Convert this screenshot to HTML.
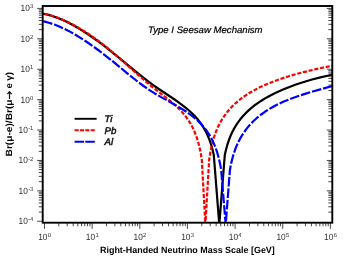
<!DOCTYPE html>
<html><head><meta charset="utf-8"><title>plot</title>
<style>
html,body{margin:0;padding:0;background:#fff;}
body{width:358px;height:262px;overflow:hidden;}
svg{display:block;}
text{font-family:"Liberation Sans",sans-serif;text-rendering:geometricPrecision;}
svg{will-change:transform;}
</style></head><body>
<svg width="358" height="262" viewBox="0 0 358 262">
<rect x="0" y="0" width="358" height="262" fill="#ffffff"/>

<clipPath id="c"><rect x="42.7" y="6.0" width="289.6" height="216.7"/></clipPath>
<g clip-path="url(#c)" fill="none" stroke-linejoin="round">
<path d="M40.00,13.27 L42.70,13.69 L45.40,14.22 L48.30,14.91 L50.60,15.54 L53.60,16.47 L56.80,17.59 L60.20,18.92 L62.80,20.03 L66.10,21.55 L69.00,22.98 L74.70,26.04 L78.10,28.01 L81.50,30.08 L88.00,34.29 L93.40,38.01 L98.90,41.98 L104.50,46.18 L110.10,50.51 L118.50,57.30 L138.90,74.16 L144.30,78.43 L148.90,81.96 L153.20,85.10 L158.40,88.73 L172.00,97.72 L175.00,99.78 L179.60,103.04 L183.60,106.04 L187.60,109.28 L191.20,112.49 L194.10,115.35 L197.20,118.77 L200.10,122.42 L202.60,126.04 L205.00,130.07 L206.20,132.35 L207.20,134.42 L209.10,138.88 L210.20,141.86 L211.00,144.27 L212.50,149.50 L213.70,154.60 L213.80,155.19 L219.30,224.50 L224.80,154.86 L226.00,149.63 L227.40,144.60 L229.00,139.82 L230.60,135.77 L232.30,132.05 L233.40,129.89 L234.60,127.72 L236.20,125.08 L237.30,123.40 L240.10,119.55 L243.00,116.07 L244.50,114.43 L246.50,112.39 L248.60,110.40 L250.60,108.63 L254.50,105.48 L256.70,103.85 L259.20,102.11 L262.10,100.22 L264.70,98.63 L267.60,96.96 L270.40,95.44 L275.80,92.73 L282.50,89.71 L288.80,87.16 L295.20,84.81 L303.00,82.23 L307.90,80.75 L312.10,79.56 L320.30,77.43 L328.80,75.47 L335.90,74.02" stroke="#000000" stroke-width="2.2"/>
<path d="M40.00,12.89 L42.80,13.38 L46.30,14.14 L49.50,14.97 L52.30,15.80 L55.20,16.76 L58.50,17.97 L61.70,19.26 L65.60,20.98 L68.70,22.46 L72.00,24.14 L75.40,25.98 L79.10,28.10 L82.80,30.34 L87.40,33.28 L91.40,35.97 L94.90,38.42 L99.80,41.99 L104.50,45.56 L112.10,51.73 L120.00,58.61 L140.00,76.56 L145.20,81.05 L150.00,85.09 L155.20,89.22 L167.10,98.39 L172.20,102.52 L176.00,105.91 L179.30,109.11 L182.60,112.66 L185.30,115.92 L188.10,119.77 L189.30,121.61 L190.70,123.93 L192.90,128.07 L194.80,132.28 L196.60,137.04 L198.20,142.18 L199.50,147.28 L200.70,153.10 L201.80,159.91 L205.40,224.50 L209.10,160.52 L209.20,159.49 L209.70,156.12 L210.60,150.94 L211.90,144.88 L213.40,139.25 L214.30,136.36 L215.30,133.47 L217.10,128.94 L218.00,126.93 L219.50,123.88 L220.70,121.66 L221.90,119.61 L224.40,115.78 L226.00,113.58 L227.50,111.67 L229.10,109.77 L231.10,107.57 L232.90,105.73 L234.70,104.01 L236.80,102.13 L238.60,100.62 L241.00,98.73 L243.20,97.11 L246.20,95.05 L248.70,93.45 L251.60,91.71 L254.30,90.19 L257.50,88.50 L260.30,87.11 L266.70,84.20 L272.90,81.68 L280.20,79.02 L288.00,76.48 L296.10,74.11 L303.70,72.09 L314.90,69.40 L325.70,67.06 L335.90,65.03" stroke="#ff0000" stroke-width="2.2" stroke-dasharray="4.1,1.75" stroke-dashoffset="1.2"/>
<path d="M40.00,20.66 L43.00,21.23 L44.90,21.66 L49.70,22.97 L54.40,24.55 L59.30,26.49 L64.70,28.95 L70.40,31.88 L75.40,34.71 L82.10,38.84 L86.90,42.01 L92.00,45.55 L97.80,49.76 L103.80,54.29 L112.30,60.95 L127.00,73.04 L134.40,79.01 L140.00,83.36 L143.60,86.00 L149.90,90.37 L154.40,93.19 L161.10,97.11 L172.10,103.17 L176.60,105.76 L181.80,108.88 L185.90,111.51 L190.40,114.66 L194.20,117.62 L196.30,119.41 L198.00,120.96 L200.00,122.91 L201.60,124.59 L204.30,127.71 L205.90,129.76 L207.20,131.56 L209.70,135.43 L211.90,139.40 L213.00,141.64 L214.00,143.86 L215.80,148.40 L217.40,153.21 L218.20,155.99 L219.00,159.09 L220.20,164.54 L221.20,170.25 L225.70,224.50 L229.90,170.27 L230.40,167.31 L231.20,163.35 L232.50,157.98 L233.80,153.52 L235.40,148.90 L236.40,146.37 L237.40,144.06 L238.40,141.93 L239.70,139.39 L241.90,135.56 L244.10,132.19 L246.90,128.41 L249.70,125.07 L251.20,123.43 L253.30,121.28 L256.90,117.94 L260.80,114.74 L264.90,111.77 L268.80,109.25 L273.70,106.43 L278.10,104.17 L283.30,101.77 L288.90,99.45 L294.90,97.21 L300.10,95.43 L305.80,93.61 L312.70,91.54 L335.90,84.98" stroke="#0000ff" stroke-width="2.2" stroke-dasharray="9.6,1.9" stroke-dashoffset="8.4"/>
</g>
<path d="M37.15,221.27H42.70M38.75,212.12H42.70M328.35,212.12H332.30M38.75,206.76H42.70M328.35,206.76H332.30M38.75,202.96H42.70M328.35,202.96H332.30M38.75,200.01H42.70M328.35,200.01H332.30M38.75,197.61H42.70M328.35,197.61H332.30M38.75,195.57H42.70M328.35,195.57H332.30M38.75,193.81H42.70M328.35,193.81H332.30M38.75,192.25H42.70M328.35,192.25H332.30M37.15,190.86H42.70M326.75,190.86H332.30M38.75,181.71H42.70M328.35,181.71H332.30M38.75,176.35H42.70M328.35,176.35H332.30M38.75,172.55H42.70M328.35,172.55H332.30M38.75,169.60H42.70M328.35,169.60H332.30M38.75,167.20H42.70M328.35,167.20H332.30M38.75,165.16H42.70M328.35,165.16H332.30M38.75,163.40H42.70M328.35,163.40H332.30M38.75,161.84H42.70M328.35,161.84H332.30M37.15,160.45H42.70M326.75,160.45H332.30M38.75,151.30H42.70M328.35,151.30H332.30M38.75,145.94H42.70M328.35,145.94H332.30M38.75,142.14H42.70M328.35,142.14H332.30M38.75,139.19H42.70M328.35,139.19H332.30M38.75,136.79H42.70M328.35,136.79H332.30M38.75,134.75H42.70M328.35,134.75H332.30M38.75,132.99H42.70M328.35,132.99H332.30M38.75,131.43H42.70M328.35,131.43H332.30M37.15,130.04H42.70M326.75,130.04H332.30M38.75,120.89H42.70M328.35,120.89H332.30M38.75,115.53H42.70M328.35,115.53H332.30M38.75,111.73H42.70M328.35,111.73H332.30M38.75,108.78H42.70M328.35,108.78H332.30M38.75,106.38H42.70M328.35,106.38H332.30M38.75,104.34H42.70M328.35,104.34H332.30M38.75,102.58H42.70M328.35,102.58H332.30M38.75,101.02H42.70M328.35,101.02H332.30M37.15,99.63H42.70M326.75,99.63H332.30M38.75,90.48H42.70M328.35,90.48H332.30M38.75,85.12H42.70M328.35,85.12H332.30M38.75,81.32H42.70M328.35,81.32H332.30M38.75,78.37H42.70M328.35,78.37H332.30M38.75,75.97H42.70M328.35,75.97H332.30M38.75,73.93H42.70M328.35,73.93H332.30M38.75,72.17H42.70M328.35,72.17H332.30M38.75,70.61H42.70M328.35,70.61H332.30M37.15,69.22H42.70M326.75,69.22H332.30M38.75,60.07H42.70M328.35,60.07H332.30M38.75,54.71H42.70M328.35,54.71H332.30M38.75,50.91H42.70M328.35,50.91H332.30M38.75,47.96H42.70M328.35,47.96H332.30M38.75,45.56H42.70M328.35,45.56H332.30M38.75,43.52H42.70M328.35,43.52H332.30M38.75,41.76H42.70M328.35,41.76H332.30M38.75,40.20H42.70M328.35,40.20H332.30M37.15,38.81H42.70M326.75,38.81H332.30M38.75,29.66H42.70M328.35,29.66H332.30M38.75,24.30H42.70M328.35,24.30H332.30M38.75,20.50H42.70M328.35,20.50H332.30M38.75,17.55H42.70M328.35,17.55H332.30M38.75,15.15H42.70M328.35,15.15H332.30M38.75,13.11H42.70M328.35,13.11H332.30M38.75,11.35H42.70M328.35,11.35H332.30M38.75,9.79H42.70M328.35,9.79H332.30M37.15,8.40H42.70M326.75,8.40H332.30M44.50,222.70V228.85M58.84,222.70V226.25M67.23,222.70V226.25M73.19,222.70V226.25M77.81,222.70V226.25M81.58,222.70V226.25M84.77,222.70V226.25M87.53,222.70V226.25M89.97,222.70V226.25M92.15,222.70V228.85M106.49,222.70V226.25M114.88,222.70V226.25M120.84,222.70V226.25M125.46,222.70V226.25M129.23,222.70V226.25M132.42,222.70V226.25M135.18,222.70V226.25M137.62,222.70V226.25M139.80,222.70V228.85M154.14,222.70V226.25M162.53,222.70V226.25M168.49,222.70V226.25M173.11,222.70V226.25M176.88,222.70V226.25M180.07,222.70V226.25M182.83,222.70V226.25M185.27,222.70V226.25M187.45,222.70V228.85M201.79,222.70V226.25M210.18,222.70V226.25M216.14,222.70V226.25M220.76,222.70V226.25M224.53,222.70V226.25M227.72,222.70V226.25M230.48,222.70V226.25M232.92,222.70V226.25M235.10,222.70V228.85M249.44,222.70V226.25M257.83,222.70V226.25M263.79,222.70V226.25M268.41,222.70V226.25M272.18,222.70V226.25M275.37,222.70V226.25M278.13,222.70V226.25M280.57,222.70V226.25M282.75,222.70V228.85M297.09,222.70V226.25M305.48,222.70V226.25M311.44,222.70V226.25M316.06,222.70V226.25M319.83,222.70V226.25M323.02,222.70V226.25M325.78,222.70V226.25M328.22,222.70V226.25M330.40,222.70V228.85" stroke="#1a1a1a" stroke-width="0.8" fill="none"/>
<rect x="42.7" y="6.0" width="289.6" height="216.7" fill="none" stroke="#000" stroke-width="1.9"/>
<text x="18.60" y="224.22" font-size="9.0" fill="#303030" textLength="9.3" lengthAdjust="spacingAndGlyphs">10</text><text x="28.15" y="221.32" font-size="5.9" fill="#303030">-4</text>
<text x="18.60" y="193.81" font-size="9.0" fill="#303030" textLength="9.3" lengthAdjust="spacingAndGlyphs">10</text><text x="28.15" y="190.91" font-size="5.9" fill="#303030">-3</text>
<text x="18.60" y="163.40" font-size="9.0" fill="#303030" textLength="9.3" lengthAdjust="spacingAndGlyphs">10</text><text x="28.15" y="160.50" font-size="5.9" fill="#303030">-2</text>
<text x="18.60" y="132.99" font-size="9.0" fill="#303030" textLength="9.3" lengthAdjust="spacingAndGlyphs">10</text><text x="28.15" y="130.09" font-size="5.9" fill="#303030">-1</text>
<text x="20.57" y="102.58" font-size="9.0" fill="#303030" textLength="9.3" lengthAdjust="spacingAndGlyphs">10</text><text x="30.12" y="99.68" font-size="5.9" fill="#303030">0</text>
<text x="20.57" y="72.17" font-size="9.0" fill="#303030" textLength="9.3" lengthAdjust="spacingAndGlyphs">10</text><text x="30.12" y="69.27" font-size="5.9" fill="#303030">1</text>
<text x="20.57" y="41.76" font-size="9.0" fill="#303030" textLength="9.3" lengthAdjust="spacingAndGlyphs">10</text><text x="30.12" y="38.86" font-size="5.9" fill="#303030">2</text>
<text x="20.57" y="11.35" font-size="9.0" fill="#303030" textLength="9.3" lengthAdjust="spacingAndGlyphs">10</text><text x="30.12" y="8.45" font-size="5.9" fill="#303030">3</text>
<text x="38.20" y="240.25" font-size="9.0" fill="#303030" textLength="9.3" lengthAdjust="spacingAndGlyphs">10</text><text x="47.75" y="237.35" font-size="5.9" fill="#303030">0</text>
<text x="85.85" y="240.25" font-size="9.0" fill="#303030" textLength="9.3" lengthAdjust="spacingAndGlyphs">10</text><text x="95.40" y="237.35" font-size="5.9" fill="#303030">1</text>
<text x="133.50" y="240.25" font-size="9.0" fill="#303030" textLength="9.3" lengthAdjust="spacingAndGlyphs">10</text><text x="143.05" y="237.35" font-size="5.9" fill="#303030">2</text>
<text x="181.15" y="240.25" font-size="9.0" fill="#303030" textLength="9.3" lengthAdjust="spacingAndGlyphs">10</text><text x="190.70" y="237.35" font-size="5.9" fill="#303030">3</text>
<text x="228.80" y="240.25" font-size="9.0" fill="#303030" textLength="9.3" lengthAdjust="spacingAndGlyphs">10</text><text x="238.35" y="237.35" font-size="5.9" fill="#303030">4</text>
<text x="276.45" y="240.25" font-size="9.0" fill="#303030" textLength="9.3" lengthAdjust="spacingAndGlyphs">10</text><text x="286.00" y="237.35" font-size="5.9" fill="#303030">5</text>
<text x="324.10" y="240.25" font-size="9.0" fill="#303030" textLength="9.3" lengthAdjust="spacingAndGlyphs">10</text><text x="333.65" y="237.35" font-size="5.9" fill="#303030">6</text>
<text x="148.0" y="33.1" font-size="9.4" font-style="italic" fill="#000" stroke="#000" stroke-width="0.22" textLength="114.6" lengthAdjust="spacingAndGlyphs">Type I Seesaw Mechanism</text>
<text x="100" y="253.1" font-size="9" font-weight="bold" fill="#000" textLength="174.8" lengthAdjust="spacingAndGlyphs">Right-Handed Neutrino Mass Scale [GeV]</text>
<text transform="translate(12.4,156.4) rotate(-90)" font-size="9" font-weight="bold" fill="#000" lengthAdjust="spacingAndGlyphs" textLength="56.9">Br(μ-e)/Br(μ</text>
<text transform="translate(12.4,88.4) rotate(-90)" font-size="9" font-weight="bold" fill="#000" lengthAdjust="spacingAndGlyphs" textLength="5.3">e</text>
<text transform="translate(12.4,80.8) rotate(-90)" font-size="9" font-weight="bold" fill="#000" lengthAdjust="spacingAndGlyphs" textLength="8.8">γ)</text>
<path d="M9.5,99.0V92.0M7.4,94.2L9.5,91.6L11.6,94.2" stroke="#111" stroke-width="1.2" fill="none"/>
<path d="M74.6,118.8H96.6" stroke="#000" stroke-width="1.9"/>
<path d="M74.6,130.2H94.8" stroke="#ff0000" stroke-width="1.9" stroke-dasharray="4.1,1.25"/>
<path d="M74.6,141.7H94.8" stroke="#0000ff" stroke-width="1.9" stroke-dasharray="9.5,1.2"/>
<text x="104.6" y="122.20" font-size="9.6" font-style="italic" fill="#111" stroke="#111" stroke-width="0.5">Ti</text>
<text x="104.6" y="133.60" font-size="9.6" font-style="italic" fill="#111" stroke="#111" stroke-width="0.5">Pb</text>
<text x="104.6" y="145.10" font-size="9.6" font-style="italic" fill="#111" stroke="#111" stroke-width="0.5">Al</text>
</svg></body></html>
